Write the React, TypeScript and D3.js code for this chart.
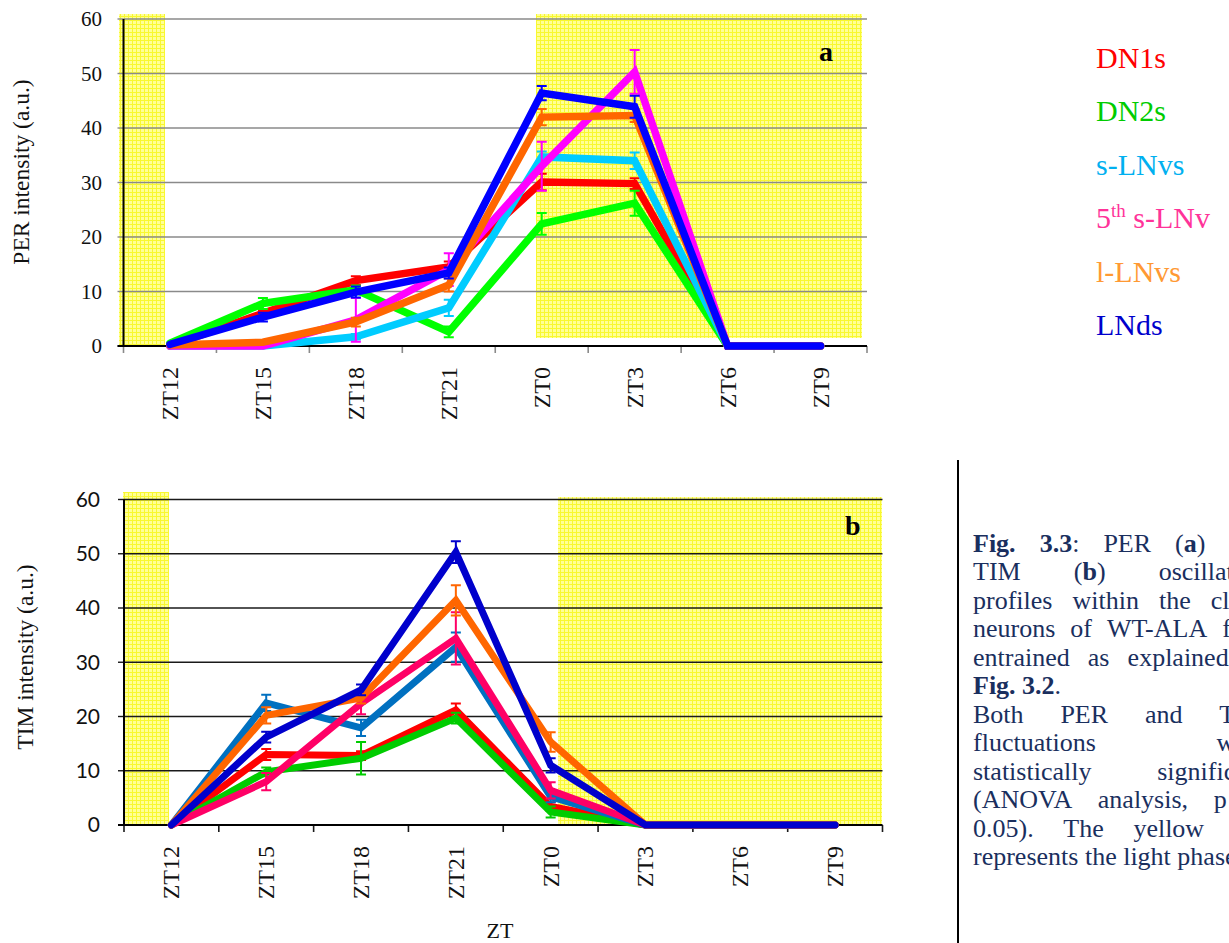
import React, { useEffect, useRef } from "react";
import * as d3 from "d3";

// ---------------- data ----------------
const categories = ["ZT12", "ZT15", "ZT18", "ZT21", "ZT0", "ZT3", "ZT6", "ZT9"];
const yTicks = [0, 10, 20, 30, 40, 50, 60];
const seriesNames = ["DN1s", "DN2s", "s-LNvs", "5th s-LNv", "l-LNvs", "LNds"];

// PER (panel a)
const perDN1s = [0, 6, 12, 14.5, 30.1, 29.8, 0, 0];
const perDN2s = [0.5, 7.8, 10.3, 2.6, 22.4, 26.2, 0, 0];
const perSLNvs = [0, 0, 1.7, 7, 34.7, 34, 0, 0];
const perFifth = [0, 0, 4.8, 14, 33, 50.3, 0, 0];
const perLLNvs = [0.2, 0.7, 4.4, 11.2, 42, 42.3, 0, 0];
const perLNds = [0.3, 5.3, 9.9, 13.4, 46.4, 43.9, 0, 0];

const perDN1sErr = [0, 0.5, 0.8, 1, 1.5, 1, 0, 0];
const perDN2sErr = [0, 1, 0.8, 1, 2, 2.3, 0, 0];
const perSLNvsErr = [0, 0, 0.5, 1.5, 1, 1.5, 0, 0];
const perFifthErr = [0, 0, 4, 3, 4.5, 4, 0, 0];
const perLLNvsErr = [0, 0.3, 0.8, 1.2, 1.5, 1.2, 0, 0];
const perLNdsErr = [0, 0.8, 1, 1, 1.3, 2, 0, 0];

// TIM (panel b)
const timDN1s = [0, 13, 12.8, 21.2, 3.4, 0, 0, 0];
const timDN2s = [0, 9.8, 12.3, 19.7, 2.4, 0, 0, 0];
const timSLNvs = [0, 22.5, 17.9, 32.8, 5.2, 0, 0, 0];
const timFifth = [0, 8, 22.4, 34.4, 6.4, 0, 0, 0];
const timLLNvs = [0, 20.2, 23.4, 41.4, 15.3, 0, 0, 0];
const timLNds = [0, 16.2, 24.9, 50.3, 11, 0, 0, 0];

const timDN1sErr = [0, 1, 0.8, 1.2, 0.8, 0, 0, 0];
const timDN2sErr = [0, 0.8, 3, 1, 1, 0, 0, 0];
const timSLNvsErr = [0, 1.5, 1.5, 2.7, 1, 0, 0, 0];
const timFifthErr = [0, 1.6, 2, 4.8, 1.5, 0, 0, 0];
const timLLNvsErr = [0, 1.5, 1, 2.8, 1.8, 0, 0, 0];
const timLNdsErr = [0, 1, 1, 2, 1.3, 0, 0, 0];

const perColors = ["#ff0000", "#00ff00", "#00ccff", "#ff00ff", "#ff6600", "#0000ff"];
const timColors = ["#ff0000", "#00cc00", "#0070c0", "#ff0066", "#ff6600", "#0000cc"];
const legendColors = ["#ff0000", "#00cc00", "#00b0f0", "#ff3399", "#ff9933", "#0000cc"];

const captionLines = [
  { t: "**Fig.** **3.3**: PER (**a**) and", j: true },
  { t: "TIM (**b**) oscillation", j: true },
  { t: "profiles within the clock", j: true },
  { t: "neurons of WT-ALA flies", j: true },
  { t: "entrained as explained in", j: true },
  { t: "**Fig.** **3.2**.", j: false },
  { t: "Both PER and TIM", j: true },
  { t: "fluctuations were", j: true },
  { t: "statistically significant", j: true },
  { t: "(ANOVA analysis, p <", j: true },
  { t: "0.05). The yellow bar", j: true },
  { t: "represents the light phase.", j: false },
];

const SERIF = "'Liberation Serif', 'Times New Roman', serif";

export default function App() {
  const ref = useRef<SVGSVGElement | null>(null);

  useEffect(() => {
    const svg = d3.select(ref.current);
    svg.selectAll("*").remove();

    const defs = svg.append("defs");
    const pat = defs
      .append("pattern")
      .attr("id", "yel")
      .attr("width", 4)
      .attr("height", 4)
      .attr("patternUnits", "userSpaceOnUse");
    pat.append("rect").attr("width", 4).attr("height", 4).attr("fill", "#ffff96");
    pat.append("path").attr("d", "M0,0.5H4M0.5,0V4").attr("stroke", "#f8f830").attr("stroke-width", 1);

    type Panel = {
      x0: number;
      x1: number;
      yTop: number;
      yBot: number;
      values: number[][];
      errs: number[][];
      colors: string[];
      lineW: number;
      gridColor: string;
      tickColor: string;
      tickFont: string;
      tickFontSize: number;
      tickRight: number;
      title: string;
      titleX: number;
      titleY: number;
      letter: string;
      letterX: number;
      letterY: number;
      bands: { x0: number; x1: number; y0: number; y1: number }[];
    };

    const panels: Panel[] = [
      {
        x0: 123.5,
        x1: 867,
        yTop: 19,
        yBot: 346,
        values: [perDN1s, perDN2s, perSLNvs, perFifth, perLLNvs, perLNds],
        errs: [perDN1sErr, perDN2sErr, perSLNvsErr, perFifthErr, perLLNvsErr, perLNdsErr],
        colors: perColors,
        lineW: 7.5,
        gridColor: "#8a8a8a",
        tickColor: "#8a8a8a",
        tickFont: SERIF,
        tickFontSize: 21,
        tickRight: 102,
        title: "PER intensity (a.u.)",
        titleX: 29,
        titleY: 172,
        letter: "a",
        letterX: 819,
        letterY: 61,
        bands: [
          { x0: 119, x1: 165, y0: 14, y1: 346 },
          { x0: 536, x1: 862, y0: 14, y1: 338 },
        ],
      },
      {
        x0: 124,
        x1: 882.5,
        yTop: 499.5,
        yBot: 825,
        values: [timDN1s, timDN2s, timSLNvs, timFifth, timLLNvs, timLNds],
        errs: [timDN1sErr, timDN2sErr, timSLNvsErr, timFifthErr, timLLNvsErr, timLNdsErr],
        colors: timColors,
        lineW: 7,
        gridColor: "#1a1a1a",
        tickColor: "#1a1a1a",
        tickFont: "Lato, 'Open Sans', sans-serif",
        tickFontSize: 21,
        tickRight: 100,
        title: "TIM intensity (a.u.)",
        titleX: 33,
        titleY: 657,
        letter: "b",
        letterX: 845,
        letterY: 535,
        bands: [
          { x0: 123, x1: 169, y0: 492, y1: 825 },
          { x0: 558, x1: 882, y0: 497, y1: 825 },
        ],
      },
    ];

    panels.forEach((p) => {
      const g = svg.append("g");
      const xb = d3.scaleBand<string>().domain(categories).range([p.x0, p.x1]);
      const xc = (c: string) => (xb(c) as number) + xb.bandwidth() / 2;
      const y = d3.scaleLinear().domain([0, 60]).range([p.yBot, p.yTop]);

      // yellow light-phase bands
      p.bands.forEach((b) => {
        g.append("rect")
          .attr("x", b.x0)
          .attr("y", b.y0)
          .attr("width", b.x1 - b.x0)
          .attr("height", b.y1 - b.y0)
          .attr("fill", "url(#yel)");
      });

      // gridlines + y ticks
      yTicks.forEach((t) => {
        if (t > 0) {
          g.append("line")
            .attr("x1", p.x0)
            .attr("x2", p.x1)
            .attr("y1", y(t))
            .attr("y2", y(t))
            .attr("stroke", p.gridColor)
            .attr("stroke-width", 1.4);
        }
        g.append("line")
          .attr("x1", p.x0 - 6)
          .attr("x2", p.x0)
          .attr("y1", y(t))
          .attr("y2", y(t))
          .attr("stroke", p.gridColor)
          .attr("stroke-width", 1.4);
        g.append("text")
          .attr("x", p.tickRight)
          .attr("y", y(t))
          .attr("dy", "0.35em")
          .attr("text-anchor", "end")
          .attr("font-family", p.tickFont)
          .attr("font-size", p.tickFontSize)
          .attr("fill", "#111")
          .text(String(t));
      });

      // x ticks at band boundaries
      const bounds = categories.map((c) => xb(c) as number).concat([p.x1]);
      bounds.forEach((bx) => {
        g.append("line")
          .attr("x1", bx)
          .attr("x2", bx)
          .attr("y1", p.yBot)
          .attr("y2", p.yBot + 7)
          .attr("stroke", p.tickColor)
          .attr("stroke-width", 1.6);
      });

      // x labels (rotated)
      categories.forEach((c) => {
        const cx = xc(c) + 8;
        const cy = p.yBot + 21;
        g.append("text")
          .attr("transform", `translate(${cx},${cy}) rotate(-90)`)
          .attr("text-anchor", "end")
          .attr("font-family", SERIF)
          .attr("font-size", 24)
          .attr("fill", "#111")
          .text(c);
      });

      // axes
      g.append("line")
        .attr("x1", p.x0)
        .attr("x2", p.x0)
        .attr("y1", p.yTop)
        .attr("y2", p.yBot)
        .attr("stroke", "#000")
        .attr("stroke-width", 2);
      g.append("line")
        .attr("x1", p.x0 - 6)
        .attr("x2", p.x1)
        .attr("y1", p.yBot)
        .attr("y2", p.yBot)
        .attr("stroke", "#000")
        .attr("stroke-width", 2);

      // y title
      g.append("text")
        .attr("transform", `translate(${p.titleX},${p.titleY}) rotate(-90)`)
        .attr("text-anchor", "middle")
        .attr("font-family", SERIF)
        .attr("font-size", 23.5)
        .attr("fill", "#111")
        .text(p.title);

      // series
      const line = d3
        .line<number>()
        .x((_, i) => xc(categories[i]))
        .y((v) => y(v));
      p.values.forEach((vals, si) => {
        const col = p.colors[si];
        const errs = p.errs[si];
        vals.forEach((v, i) => {
          const e = errs[i];
          if (!e) return;
          const cx = xc(categories[i]);
          const path = `M${cx},${y(v - e)}V${y(v + e)}M${cx - 5},${y(v + e)}H${cx + 5}M${cx - 5},${y(v - e)}H${cx + 5}`;
          g.append("path").attr("d", path).attr("stroke", col).attr("stroke-width", 2).attr("fill", "none");
        });
        g.append("path")
          .attr("d", line(vals) as string)
          .attr("fill", "none")
          .attr("stroke", col)
          .attr("stroke-width", p.lineW)
          .attr("stroke-linejoin", "miter")
          .attr("stroke-miterlimit", 3)
          .attr("stroke-linecap", "round");
      });

      // panel letter
      g.append("text")
        .attr("x", p.letterX)
        .attr("y", p.letterY)
        .attr("font-family", SERIF)
        .attr("font-weight", "bold")
        .attr("font-size", 28)
        .attr("fill", "#000")
        .text(p.letter);
    });

    // x title
    svg
      .append("text")
      .attr("x", 500)
      .attr("y", 938)
      .attr("text-anchor", "middle")
      .attr("font-family", SERIF)
      .attr("font-size", 22)
      .attr("fill", "#111")
      .text("ZT");

    // legend
    const lg = svg.append("g");
    seriesNames.forEach((name, i) => {
      const t = lg
        .append("text")
        .attr("x", 1096)
        .attr("y", 68 + i * 53.4)
        .attr("font-family", SERIF)
        .attr("font-size", 30)
        .attr("fill", legendColors[i]);
      if (name.startsWith("5th")) {
        t.append("tspan").text("5");
        t.append("tspan").attr("font-size", 19).attr("dy", -11).text("th");
        t.append("tspan").attr("dy", 11).text(" s-LNv");
      } else {
        t.text(name);
      }
    });

    // caption
    svg
      .append("line")
      .attr("x1", 958)
      .attr("x2", 958)
      .attr("y1", 460)
      .attr("y2", 943)
      .attr("stroke", "#000")
      .attr("stroke-width", 2);

    const capLeft = 973;
    const capWidth = 294;
    const cg = svg.append("g").attr("font-family", SERIF).attr("font-size", 26).attr("fill", "#1a2f5e");
    captionLines.forEach((ln, li) => {
      const yy = 552 + li * 28.45;
      const words = ln.t.split(" ");
      const nodes: { el: SVGTextElement; w: number }[] = [];
      words.forEach((w) => {
        const te = cg.append("text").attr("y", yy);
        const parts = w.split("**");
        parts.forEach((pt, k) => {
          if (!pt) return;
          te.append("tspan").attr("font-weight", k % 2 === 1 ? "bold" : "normal").text(pt);
        });
        const el = te.node() as SVGTextElement;
        nodes.push({ el, w: el.getComputedTextLength() });
      });
      const total = nodes.reduce((s, n) => s + n.w, 0);
      const spaceW = 6.5;
      const gap = ln.j && nodes.length > 1 ? (capWidth - total) / (nodes.length - 1) : spaceW;
      let xx = capLeft;
      nodes.forEach((n) => {
        d3.select(n.el).attr("x", xx);
        xx += n.w + gap;
      });
    });
  }, []);

  return (
    <svg
      ref={ref}
      width={1229}
      height={943}
      style={{ position: "absolute", left: 0, top: 0, background: "#fff", overflow: "hidden" }}
    />
  );
}
